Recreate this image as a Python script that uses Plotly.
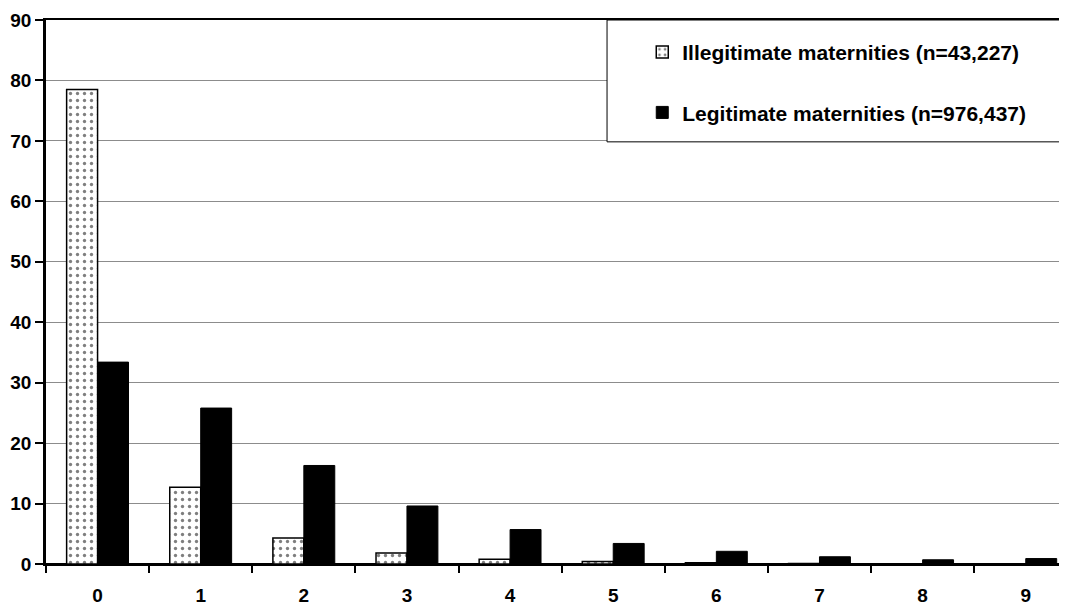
import plotly.graph_objects as go

categories = ["0", "1", "2", "3", "4", "5", "6", "7", "8", "9"]
illegitimate = [78.5, 12.7, 4.3, 1.8, 0.8, 0.4, 0.2, 0.1, 0.05, 0.05]
legitimate = [33.4, 25.8, 16.3, 9.6, 5.7, 3.4, 2.1, 1.2, 0.7, 0.9]

FONT = "Arial, Liberation Sans, sans-serif"

fig = go.Figure()
fig.add_trace(go.Bar(
    x=categories, y=illegitimate,
    name="<b>Illegitimate maternities (n=43,227)</b>",
    marker=dict(color="white", line=dict(color="black", width=1.5),
                pattern=dict(shape=".", fgcolor="black", bgcolor="white",
                             size=7, solidity=0.18)),
    legendgroup="a",
))
fig.add_trace(go.Bar(
    x=categories, y=legitimate,
    name="<b>Legitimate maternities (n=976,437)</b>",
    marker=dict(color="black", line=dict(color="black", width=1)),
    legendgroup="b",
))

# legend box, drawn over the gridlines
fig.add_shape(type="rect", xref="paper", yref="paper",
              x0=0.5495, x1=1.0, y0=0.776, y1=1.0,
              fillcolor="white", line=dict(color="black", width=1),
              layer="above")

# page body has an 8px margin, so the figure is sized to fit inside it;
# the original chart is cropped on the right, hence the short x range
fig.update_layout(
    width=1059, height=598,
    paper_bgcolor="white", plot_bgcolor="white",
    margin=dict(l=38, r=0, t=12, b=42, autoexpand=False),
    barmode="group", bargap=0.4, bargroupgap=0,
    font=dict(family=FONT, size=16, color="black"),
    showlegend=True,
    legend=dict(x=0.584, y=0.978, xanchor="left", yanchor="top",
                bgcolor="rgba(0,0,0,0)", borderwidth=0,
                traceorder="grouped", tracegroupgap=30,
                font=dict(family=FONT, size=21, color="black"),
                itemwidth=30),
    xaxis=dict(
        type="category", showgrid=False, automargin=False,
        range=[-0.5, 9.4],
        showline=True, linecolor="black", linewidth=2, mirror=True,
        ticks="outside", tickson="boundaries", ticklen=7, tickwidth=2,
        tickcolor="black", ticklabelstandoff=13,
        tickfont=dict(family=FONT, size=19, color="black", weight="bold"),
    ),
    yaxis=dict(
        range=[0, 90], dtick=10, automargin=False,
        showgrid=True, gridcolor="#8c8c8c", gridwidth=1,
        showline=True, linecolor="black", linewidth=2.5,
        ticks="outside", ticklen=8, tickwidth=2, tickcolor="black",
        zeroline=True, zerolinecolor="black", zerolinewidth=2,
        tickfont=dict(family=FONT, size=19, color="black", weight="bold"),
    ),
)

fig.write_html("out.html")
